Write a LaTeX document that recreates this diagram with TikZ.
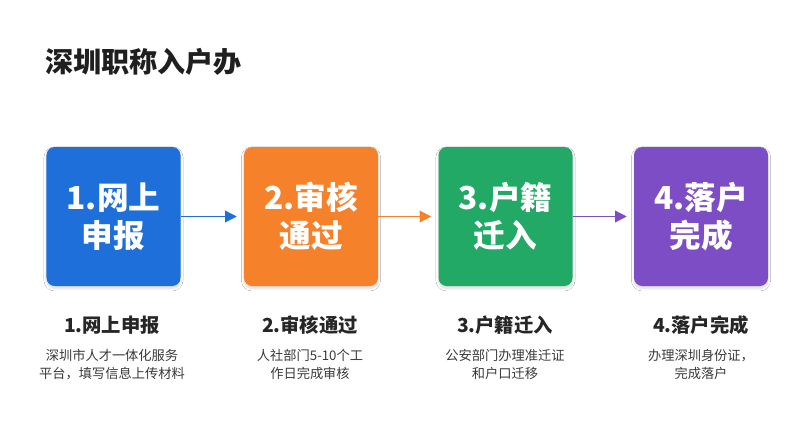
\documentclass[tikz,border=0pt]{standalone}
\usepackage{fontspec}
\setmainfont{Noto Sans CJK SC}
\usetikzlibrary{arrows.meta,shadows.blur}
\definecolor{stepblue}{HTML}{1F6FDB}
\definecolor{steporange}{HTML}{F5812B}
\definecolor{stepgreen}{HTML}{22A965}
\definecolor{steppurple}{HTML}{7C4DC4}
\definecolor{desctext}{HTML}{3A3A3A}
\tikzset{
  stepbox/.style={rounded corners=7pt,minimum width=4.02cm,minimum height=4.17cm,
    text=white,align=center,font=\fontsize{27}{32}\selectfont\bfseries,
    blur shadow={shadow blur steps=6,shadow xshift=0pt,shadow yshift=-2pt,shadow opacity=15}},
  steplabel/.style={font=\fontsize{16.5}{20}\selectfont\bfseries,text=black!85},
  stepdesc/.style={font=\fontsize{11.3}{16}\selectfont,text=desctext,align=center},
  steparrow/.style={-{Triangle[length=10pt,width=10pt]},line width=1.1pt}
}
\begin{document}
\begin{tikzpicture}[x=0.03cm,y=-0.03cm]
\useasboundingbox[fill=white] (0,0) rectangle (807,441);
\node[anchor=west,font=\fontsize{24}{28}\selectfont\bfseries,text=black!88] (title) at (41,62) {深圳职称入户办};
% boxes
\node[stepbox,fill=stepblue] (s1) at (113.5,216.5) {1.网上\\申报};
\node[stepbox,fill=steporange] (s2) at (311,216.5) {2.审核\\通过};
\node[stepbox,fill=stepgreen] (s3) at (505.5,216.5) {3.户籍\\迁入};
\node[stepbox,fill=steppurple] (s4) at (701,216.5) {4.落户\\完成};
\draw[steparrow,stepblue] (s1.east) -- ([xshift=-6pt]s2.west);
\draw[steparrow,steporange] (s2.east) -- ([xshift=-6pt]s3.west);
\draw[steparrow,steppurple] (s3.east) -- ([xshift=-6pt]s4.west);
% labels
\node[steplabel] (l1) at (112,325) {1.网上申报};
\node[steplabel] (l2) at (310,325) {2.审核通过};
\node[steplabel] (l3) at (505,325) {3.户籍迁入};
\node[steplabel] (l4) at (701,325) {4.落户完成};
\node[stepdesc] (d1) at (112,364.5) {深圳市人才一体化服务\\平台，填写信息上传材料};
\node[stepdesc] (d2) at (310,364.5) {人社部门5-10个工\\作日完成审核};
\node[stepdesc] (d3) at (505,364.5) {公安部门办理准迁证\\和户口迁移};
\node[stepdesc] (d4) at (701,364.5) {办理深圳身份证，\\完成落户};
\end{tikzpicture}
\end{document}
